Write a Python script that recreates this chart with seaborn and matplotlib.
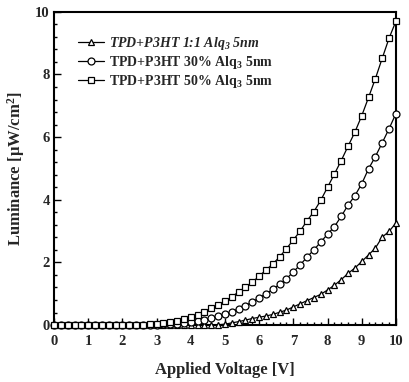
import numpy as np
import pandas as pd
import matplotlib
matplotlib.use("Agg")
import matplotlib.pyplot as plt
from matplotlib.ticker import MultipleLocator
import seaborn as sns

voltage = [round(0.2 * i, 1) for i in range(51)]

# TPD+P3HT 1:1 Alq3 5nm (triangles)
lum_11 = [0.0] * 24 + [0.01, 0.03, 0.07, 0.11, 0.16, 0.21, 0.25, 0.29, 0.34, 0.41,
                       0.48, 0.58, 0.68, 0.78, 0.88, 0.98, 1.12, 1.27, 1.45, 1.65,
                       1.82, 2.03, 2.24, 2.46, 2.81, 2.99, 3.26]
# TPD+P3HT 30% Alq3 5nm (circles)
lum_30 = [0.0] * 15 + [0.01, 0.02, 0.03, 0.05, 0.07, 0.10, 0.13, 0.17, 0.22, 0.28,
                       0.35, 0.43, 0.52, 0.62, 0.74, 0.87, 1.00, 1.14, 1.30, 1.48,
                       1.70, 1.92, 2.17, 2.40, 2.65, 2.90, 3.14, 3.47, 3.83, 4.13,
                       4.51, 4.99, 5.38, 5.82, 6.27, 6.75]
# TPD+P3HT 50% Alq3 5nm (squares)
lum_50 = [0.0] * 14 + [0.02, 0.04, 0.06, 0.10, 0.14, 0.19, 0.25, 0.33, 0.42, 0.53,
                       0.64, 0.76, 0.90, 1.06, 1.21, 1.37, 1.56, 1.76, 1.95, 2.18,
                       2.44, 2.72, 3.00, 3.33, 3.62, 3.98, 4.40, 4.82, 5.25, 5.71,
                       6.16, 6.68, 7.27, 7.87, 8.52, 9.16, 9.70]

labels = ["TPD+P3HT 1:1 Alq$_3$ 5$nm$",
          "TPD+P3HT 30% Alq$_3$ 5nm",
          "TPD+P3HT 50% Alq$_3$ 5nm"]
markers = ["^", "o", "s"]

sns.set_style("ticks")
plt.rcParams["font.family"] = ["Liberation Serif", "DejaVu Serif"]
plt.rcParams["font.weight"] = "bold"
plt.rcParams["mathtext.default"] = "regular"

fig = plt.figure(figsize=(4.09, 3.82), dpi=100)
ax = fig.add_axes([0.132, 0.149, 0.836, 0.82])

for lum, lab, mk in zip([lum_11, lum_30, lum_50], labels, markers):
    df = pd.DataFrame({"V": voltage, "L": lum})
    sns.lineplot(data=df, x="V", y="L", ax=ax, color="black", lw=0.9,
                 marker=mk, markersize=5.0, markerfacecolor="white",
                 markeredgecolor="black", markeredgewidth=0.9, label=lab,
                 clip_on=False, zorder=3)

ax.set_xlim(0, 10)
ax.set_ylim(0, 10)
ax.xaxis.set_major_locator(MultipleLocator(1))
ax.xaxis.set_minor_locator(MultipleLocator(0.2))
ax.yaxis.set_major_locator(MultipleLocator(2))
ax.yaxis.set_minor_locator(MultipleLocator(0.4))
ax.tick_params(which="both", direction="in", top=False, right=False,
               labelsize=10.5, width=1.0, color="black")
ax.tick_params(which="major", length=5)
ax.tick_params(which="minor", length=2.5)
ax.tick_params(axis="x", which="major", pad=7)
ax.tick_params(axis="y", which="major", pad=3)
for s in ax.spines.values():
    s.set_linewidth(1.5)
    s.set_color("black")
for t in ax.get_xticklabels() + ax.get_yticklabels():
    t.set_fontweight("bold")

ax.set_xlabel("Applied Voltage [V]", fontsize=12, fontweight="bold", labelpad=10)
ax.set_ylabel("Luminance [\u03bcW/cm$^2$]", fontsize=12, fontweight="bold", labelpad=6)

leg = ax.legend(loc="upper left", bbox_to_anchor=(0.07, 0.925), frameon=False,
                fontsize=10, handlelength=1.9, handletextpad=0.35,
                labelspacing=0.12, borderaxespad=0, borderpad=0)
for t in leg.get_texts():
    t.set_fontweight("bold")
leg.get_texts()[0].set_style("italic")

fig.savefig("out.png", dpi=100)
